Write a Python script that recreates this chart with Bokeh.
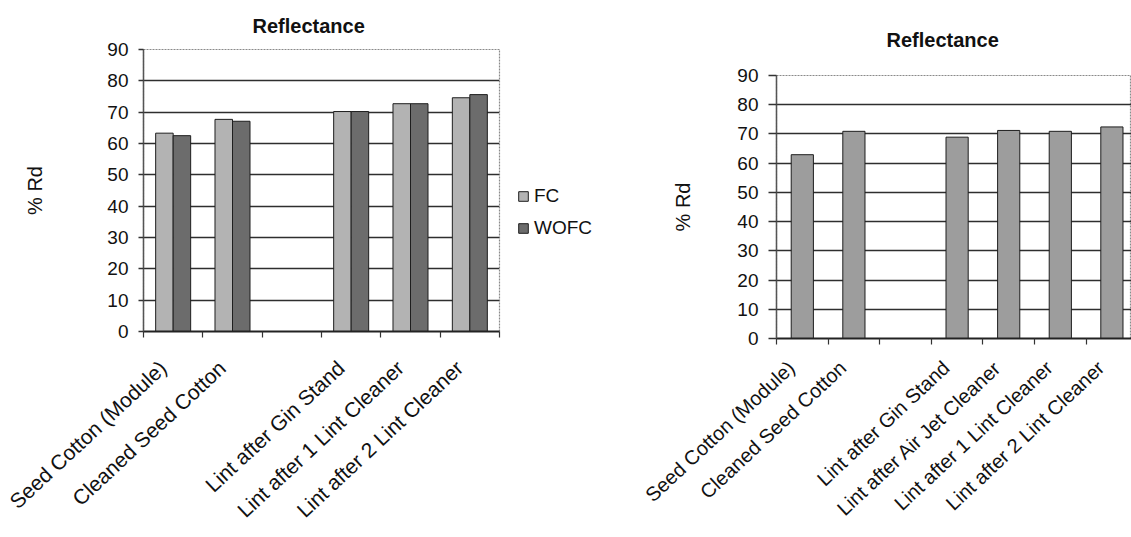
import math
from bokeh.plotting import figure
from bokeh.layouts import row, column
from bokeh.models import (Range1d, FixedTicker, Legend, LegendItem,
                          CustomJSTickFormatter)
from bokeh.embed import file_html
from bokeh.resources import INLINE

# ---- data ---------------------------------------------------------------
left_stages = ["Seed Cotton (Module)", "Cleaned Seed Cotton", "",
               "Lint after Gin Stand", "Lint after 1 Lint Cleaner",
               "Lint after 2 Lint Cleaner"]
left_fc = [63.3, 67.7, None, 70.2, 72.7, 74.6]
left_wofc = [62.5, 67.1, None, 70.2, 72.7, 75.6]

right_stages = ["Seed Cotton (Module)", "Cleaned Seed Cotton", "",
                "Lint after Gin Stand", "Lint after Air Jet Cleaner",
                "Lint after 1 Lint Cleaner", "Lint after 2 Lint Cleaner"]
right_fc = [62.9, 70.9, None, 68.9, 71.2, 70.9, 72.4]

y_ticks = [0, 10, 20, 30, 40, 50, 60, 70, 80, 90]
series_names = ["FC", "WOFC"]

FONT = "Liberation Sans"
GRID = "#2e2e2e"
FC_COLOR, WOFC_COLOR, RIGHT_COLOR = "#b3b3b3", "#6c6c6c", "#9d9d9d"
EDGE = "#1e1e1e"
LABEL_ANGLE = math.radians(43)


def present(values, offset=0.0):
    xs, tops = [], []
    for i, v in enumerate(values):
        if v is not None:
            xs.append(i + 0.5 + offset)
            tops.append(v)
    return xs, tops


def style_axes(p, stages, tick_size, cat_size, label_standoff, tick_out,
               cat_standoff, cat_shift):
    xa, ya = p.xaxis[0], p.yaxis[0]
    # stage names hang from the slot centres, tick marks sit on slot edges
    xa.ticker = FixedTicker(ticks=[i + 0.5 - cat_shift for i in range(len(stages))],
                            minor_ticks=list(range(len(stages) + 1)))
    xa.formatter = CustomJSTickFormatter(args=dict(labels=stages),
                                         code="return labels[Math.floor(tick)] || ''")
    xa.major_label_orientation = LABEL_ANGLE
    xa.major_tick_in = 0
    xa.major_tick_out = 0
    xa.minor_tick_in = 0
    xa.minor_tick_out = 6
    xa.minor_tick_line_color = "#333333"
    xa.minor_tick_line_width = 1.2
    xa.axis_line_color = "#222222"
    xa.axis_line_width = 2
    xa.major_label_text_font = FONT
    xa.major_label_text_font_size = f"{cat_size}px"
    xa.major_label_text_color = "#111111"
    xa.major_label_standoff = cat_standoff

    ya.ticker = FixedTicker(ticks=y_ticks)
    ya.major_tick_in = 0
    ya.major_tick_out = tick_out
    ya.minor_tick_line_color = None
    ya.major_tick_line_color = "#333333"
    ya.major_tick_line_width = 1.4
    ya.axis_line_color = "#555555"
    ya.axis_line_width = 1.5
    ya.major_label_text_font = FONT
    ya.major_label_text_font_size = f"{tick_size}px"
    ya.major_label_text_color = "#111111"
    ya.major_label_standoff = 10
    ya.axis_label = "% Rd"
    ya.axis_label_text_font = FONT
    ya.axis_label_text_font_style = "normal"
    ya.axis_label_text_font_size = "20px"
    ya.axis_label_text_color = "#111111"
    ya.axis_label_standoff = label_standoff


def base_figure(width, x_end, borders, grid_ticks, title_offset,
                title_standoff):
    left, right, top, bottom = borders
    p = figure(width=width, height=537, output_backend="svg",
               toolbar_location=None, x_range=Range1d(0, x_end),
               y_range=Range1d(0, 90), min_border_left=left,
               min_border_right=right, min_border_top=top,
               min_border_bottom=bottom, background_fill_color="white",
               border_fill_color="white")
    p.xgrid.visible = False
    p.ygrid.ticker = FixedTicker(ticks=grid_ticks)
    p.ygrid.grid_line_color = GRID
    p.ygrid.grid_line_width = 1.6
    p.outline_line_color = "#8a8a8a"
    p.outline_line_dash = "2 1"
    p.outline_line_width = 1.2
    p.title.text = "Reflectance"
    p.title.align = "left"
    p.title.offset = title_offset
    p.title.standoff = title_standoff
    p.title.text_font = FONT
    p.title.text_font_size = "20px"
    p.title.text_font_style = "bold"
    p.title.text_color = "#111111"
    return p


# ---- left chart: FC vs WOFC ---------------------------------------------
bar_w = 0.295
pl = base_figure(510, len(left_stages), (143, 11, 49, 206), y_ticks[1:],
                 109, 25)
xs, tops = present(left_fc, -bar_w / 2)
pl.vbar(x=xs, top=tops, width=bar_w, bottom=0,
        fill_color=FC_COLOR, line_color=EDGE, line_width=1)
xs, tops = present(left_wofc, bar_w / 2)
pl.vbar(x=xs, top=tops, width=bar_w, bottom=0,
        fill_color=WOFC_COLOR, line_color=EDGE, line_width=1)
style_axes(pl, left_stages, 19, 21, 58, 5, 27, 0.17)

# ---- legend strip beside the left chart ---------------------------------
# the swatch renderers carry no drawable point; they only style the key
pk = figure(width=100, height=537, output_backend="svg",
            toolbar_location=None, x_range=Range1d(0, 1),
            y_range=Range1d(0, 1), min_border=0)
pk.axis.visible = False
pk.grid.visible = False
pk.outline_line_color = None
k_fc = pk.vbar(x=[float("nan")], top=[float("nan")], bottom=0, width=0.3,
               fill_color=FC_COLOR, line_color=EDGE, line_width=1)
k_wofc = pk.vbar(x=[float("nan")], top=[float("nan")], bottom=0, width=0.3,
                 fill_color=WOFC_COLOR, line_color=EDGE, line_width=1)
legend = Legend(items=[LegendItem(label=series_names[0], renderers=[k_fc]),
                       LegendItem(label=series_names[1], renderers=[k_wofc])],
                location=(7, 298), orientation="vertical",
                glyph_width=12, glyph_height=12, label_height=20,
                label_standoff=5, spacing=10, padding=0, margin=0,
                border_line_color=None, background_fill_alpha=0,
                label_text_font=FONT, label_text_font_size="19px",
                label_text_color="#111111")
pk.add_layout(legend)

# ---- right chart: FC only -----------------------------------------------
slot_px = 51.6
pr = base_figure(521, 355 / slot_px, (166, 0, 75, 199), y_ticks[1:-1],
                 110, 50)
xs, tops = present(right_fc)
pr.vbar(x=xs, top=tops, width=0.43, bottom=0,
        fill_color=RIGHT_COLOR, line_color=EDGE, line_width=1)
style_axes(pr, right_stages, 19, 20, 40, 8, 20, 0.21)

layout = row(column(pl), column(pk), column(pr), spacing=0)
open("out.html", "w").write(file_html(layout, INLINE))
